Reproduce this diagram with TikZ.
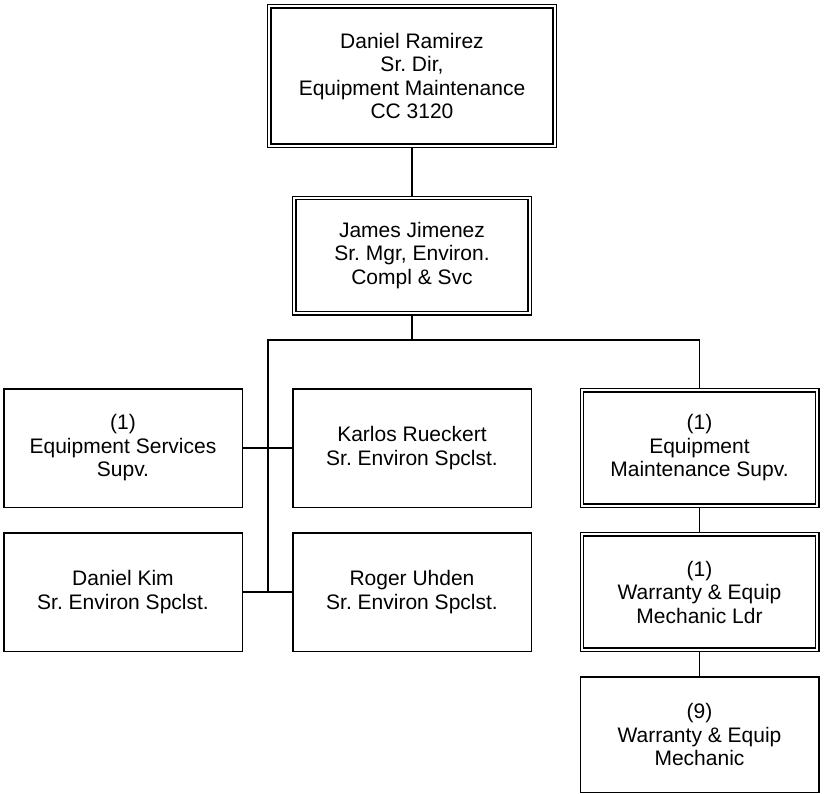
\documentclass[tikz,border=0pt]{standalone}
\usepackage{fontspec}
\setmainfont{Liberation Sans}
\usepackage{tikz}

\begin{document}
\frenchspacing
\begin{tikzpicture}[x=1pt,y=-1pt,
  box/.style={draw,line width=1.5pt,align=center,inner sep=0pt,
    minimum width=238.5pt,minimum height=118.5pt,
    font=\fontsize{21}{23.5}\selectfont},
  dbox/.style={box,double,line width=1.3pt,double distance=2pt,outer sep=2.3pt,
    minimum width=235.4pt,minimum height=115.4pt},
  link/.style={line width=1.5pt}]
\clip (0,0) rectangle (825,793);
\fill[white] (0,0) rectangle (825,793);
% top of the chart
\node[dbox,minimum width=285.4pt,minimum height=139.4pt] (ramirez) at (412,76)
  {Daniel Ramirez\\Sr. Dir,\\Equipment Maintenance\\CC 3120};
\node[dbox] (jimenez) at (412,255.5) {James Jimenez\\Sr. Mgr, Environ.\\Compl \& Svc};
% left group
\node[box] (svcsupv) at (123,448) {(1)\\Equipment Services\\Supv.};
\node[box] (karlos) at (412,448) {Karlos Rueckert\\Sr. Environ Spclst.};
\node[box] (kim) at (123,592) {Daniel Kim\\Sr. Environ Spclst.};
\node[box] (uhden) at (412,592) {Roger Uhden\\Sr. Environ Spclst.};
% right column
\node[dbox] (maintsupv) at (699.5,448) {(1)\\Equipment\\Maintenance Supv.};
\node[dbox] (mechldr) at (699.5,592) {(1)\\Warranty \& Equip\\Mechanic Ldr};
\node[box,minimum height=115.5pt] (mech) at (699.5,734.5) {(9)\\Warranty \& Equip\\Mechanic};
% connectors
\coordinate (busleft) at (268,340);
\coordinate (busend) at (268,592);
\draw[link] (ramirez) -- (jimenez);
\draw[link] (jimenez.south) -- (jimenez.south |- busleft);
\draw[link] (busend) -- (busleft) -| (maintsupv.north);
\draw[link] (svcsupv) -- (karlos);
\draw[link] (kim) -- (uhden);
\draw[link] (maintsupv) -- (mechldr);
\draw[link] (mechldr) -- (mech);
\end{tikzpicture}
\end{document}
